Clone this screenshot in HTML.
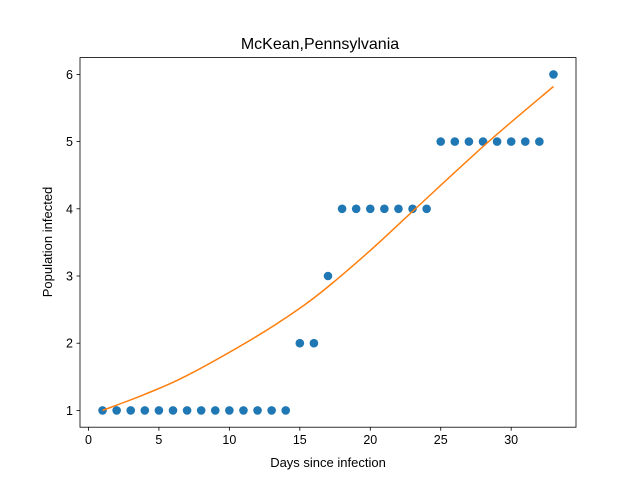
<!DOCTYPE html>
<html><head><meta charset="utf-8"><style>
body{margin:0;background:#fff;}
svg{display:block;font-family:"Liberation Sans","DejaVu Sans",sans-serif;}
</style></head><body>
<svg id="chart" width="640" height="480"></svg>
<script>
const days=[1,2,3,4,5,6,7,8,9,10,11,12,13,14,15,16,17,18,19,20,21,22,23,24,25,26,27,28,29,30,31,32,33];
const infected=[1,1,1,1,1,1,1,1,1,1,1,1,1,1,2,2,3,4,4,4,4,4,4,4,5,5,5,5,5,5,5,5,6];
const fitDays=[1,4,7,12,15,17,20,23.2,28.4,33];
const fitVals=[1.0,1.24,1.52,2.11,2.52,2.84,3.38,4.0,5.0,5.82];
const xTicks=[0,5,10,15,20,25,30];
const yTicks=[1,2,3,4,5,6];
const L=80,R=576,T=57.6,B=427.2,xmin=-0.6,xmax=34.6,ymin=0.75,ymax=6.25;
const sx=v=>L+(v-xmin)/(xmax-xmin)*(R-L);
const sy=v=>B-(v-ymin)/(ymax-ymin)*(B-T);
const svg=document.getElementById('chart');
const NS='http://www.w3.org/2000/svg';
function mk(tag,attrs,parent){const e=document.createElementNS(NS,tag);for(const k in attrs)e.setAttribute(k,attrs[k]);(parent||svg).appendChild(e);return e;}
let t=mk('text',{x:320,y:49,'text-anchor':'middle','font-size':16,fill:'#000'});t.textContent='McKean,Pennsylvania';


xTicks.forEach(v=>{const x=sx(v);
const l=mk('line',{x1:x,x2:x,y1:B,y2:B+3.5,stroke:'#000','stroke-width':0.8});


const tx=mk('text',{x:x,y:B+17,'text-anchor':'middle','font-size':12.5});tx.textContent=v;

});
yTicks.forEach(v=>{const y=sy(v);
const l=mk('line',{x1:L-3.5,x2:L,y1:y,y2:y,stroke:'#000','stroke-width':0.8});


const tx=mk('text',{x:L-7,y:y+4.5,'text-anchor':'end','font-size':12.5});tx.textContent=v;

});
let xl=mk('text',{x:328,y:467,'text-anchor':'middle','font-size':13});xl.textContent='Days since infection';


let yl=mk('text',{x:0,y:0,'text-anchor':'middle','font-size':13,transform:'translate(52,242) rotate(-90)'});yl.textContent='Population infected';


days.forEach((d,i)=>{const c=mk('circle',{cx:sx(d),cy:sy(infected[i]),r:4.3,fill:'#1f77b4'});

});
const P=fitDays.map((d,i)=>[sx(d),sy(fitVals[i])]);
let dstr='M'+P[0][0]+','+P[0][1];
for(let i=0;i<P.length-1;i++){const p0=P[Math.max(0,i-1)],p1=P[i],p2=P[i+1],p3=P[Math.min(P.length-1,i+2)];
const c1=[p1[0]+(p2[0]-p0[0])/6,p1[1]+(p2[1]-p0[1])/6],c2=[p2[0]-(p3[0]-p1[0])/6,p2[1]-(p3[1]-p1[1])/6];
dstr+=' C'+c1[0]+','+c1[1]+' '+c2[0]+','+c2[1]+' '+p2[0]+','+p2[1];}
const fl=mk('path',{d:dstr,fill:'none',stroke:'#ff7f0e','stroke-width':1.5});


const fr=mk('rect',{x:L,y:T,width:R-L,height:B-T,fill:'none',stroke:'#000','stroke-width':0.8});


</script>
</body></html>
